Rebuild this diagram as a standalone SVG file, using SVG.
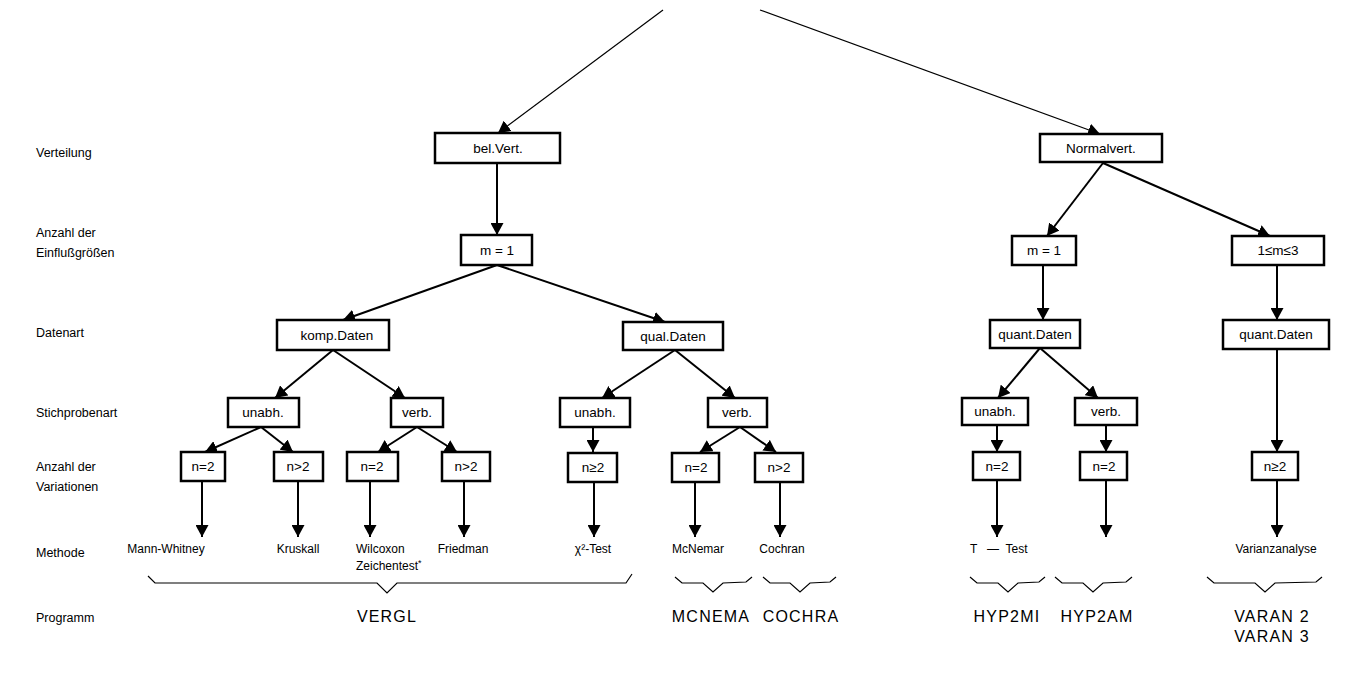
<svg xmlns="http://www.w3.org/2000/svg" width="1353" height="678" viewBox="0 0 1353 678">
<defs>
<marker id="ah" markerUnits="userSpaceOnUse" markerWidth="13" markerHeight="13" refX="12" refY="6.5" orient="auto" viewBox="0 0 13 13">
<path d="M0,0 L12,6.5 L0,13 z" fill="#000"/>
</marker>
<style>
.box{fill:#fff;stroke:#000;stroke-width:2.5}
.nl{font-family:"Liberation Sans",Arial,sans-serif;font-size:13.5px;fill:#000;text-anchor:middle}
.lab{font-family:"Liberation Sans",Arial,sans-serif;font-size:12.5px;fill:#000}
.wl{font-family:"Liberation Sans",Arial,sans-serif;font-size:12px;fill:#000}
.met{font-family:"Liberation Sans",Arial,sans-serif;font-size:12px;fill:#000;text-anchor:middle}
.prg{font-family:"Liberation Sans",Arial,sans-serif;font-size:16px;letter-spacing:1.2px;fill:#000;text-anchor:middle}
.c{stroke:#000;stroke-width:2;fill:none;marker-end:url(#ah)}
.t{stroke:#000;stroke-width:1.2;fill:none;marker-end:url(#ah)}
.br{stroke:#000;stroke-width:1.2;fill:none}
</style>
</defs>

<g id="labels">
<text class="lab" x="36" y="157">Verteilung</text>
<text class="lab" x="36" y="237">Anzahl der</text>
<text class="lab" x="36" y="257">Einflußgrößen</text>
<text class="lab" x="36" y="337">Datenart</text>
<text class="lab" x="36" y="417">Stichprobenart</text>
<text class="lab" x="36" y="471">Anzahl der</text>
<text class="lab" x="36" y="491">Variationen</text>
<text class="lab" x="36" y="557">Methode</text>
<text class="lab" x="36" y="622">Programm</text>
</g>

<g id="connectors">
<line class="t" x1="663" y1="10" x2="498" y2="133"/>
<line class="t" x1="760" y1="10" x2="1100" y2="134"/>
<line class="c" x1="497" y1="163" x2="497" y2="235"/>
<line class="c" x1="497" y1="265" x2="343" y2="320"/>
<line class="c" x1="497" y1="265" x2="665" y2="322"/>
<line class="c" x1="333" y1="350" x2="275" y2="398"/>
<line class="c" x1="333" y1="350" x2="405" y2="398"/>
<line class="c" x1="261" y1="427" x2="205" y2="452"/>
<line class="c" x1="261" y1="427" x2="293" y2="452"/>
<line class="c" x1="417" y1="427" x2="378" y2="452"/>
<line class="c" x1="417" y1="427" x2="457" y2="452"/>
<line class="c" x1="675" y1="350" x2="602" y2="398"/>
<line class="c" x1="675" y1="350" x2="735" y2="398"/>
<line class="c" x1="593" y1="427" x2="593" y2="452"/>
<line class="c" x1="740" y1="427" x2="700" y2="452"/>
<line class="c" x1="740" y1="427" x2="776" y2="452"/>
<line class="c" x1="1103" y1="163" x2="1047" y2="236"/>
<line class="c" x1="1103" y1="163" x2="1270" y2="236"/>
<line class="c" x1="1043" y1="265" x2="1043" y2="320"/>
<line class="c" x1="1277" y1="265" x2="1277" y2="320"/>
<line class="c" x1="1040" y1="348" x2="998" y2="398"/>
<line class="c" x1="1040" y1="348" x2="1098" y2="398"/>
<line class="c" x1="997" y1="425" x2="997" y2="452"/>
<line class="c" x1="1106" y1="425" x2="1106" y2="452"/>
<line class="c" x1="1277" y1="349" x2="1277" y2="452"/>
<line class="c" x1="202" y1="481" x2="202" y2="537"/>
<line class="c" x1="298" y1="481" x2="298" y2="537"/>
<line class="c" x1="370" y1="481" x2="370" y2="537"/>
<line class="c" x1="464" y1="481" x2="464" y2="537"/>
<line class="c" x1="594" y1="482" x2="594" y2="537"/>
<line class="c" x1="695" y1="482" x2="695" y2="537"/>
<line class="c" x1="780" y1="482" x2="780" y2="537"/>
<line class="c" x1="997" y1="480" x2="997" y2="537"/>
<line class="c" x1="1106" y1="480" x2="1106" y2="537"/>
<line class="c" x1="1277" y1="480" x2="1277" y2="537"/>
</g>

<g id="n-belvert"><rect class="box" x="435" y="133" width="125" height="30"/><text class="nl" x="498" y="153">bel.Vert.</text></g>
<g id="n-normalvert"><rect class="box" x="1040" y="134" width="122" height="28"/><text class="nl" x="1101" y="153">Normalvert.</text></g>
<g id="n-m1a"><rect class="box" x="461" y="235" width="71" height="30"/><text class="nl" x="497" y="255">m = 1</text></g>
<g id="n-m1b"><rect class="box" x="1012" y="236" width="64" height="29"/><text class="nl" x="1044" y="255">m = 1</text></g>
<g id="n-m13"><rect class="box" x="1232" y="236" width="92" height="29"/><text class="nl" x="1278" y="255">1≤m≤3</text></g>
<g id="n-komp"><rect class="box" x="277" y="320" width="112" height="30"/><text class="nl" x="337" y="340">komp.Daten</text></g>
<g id="n-qual"><rect class="box" x="623" y="322" width="100" height="28"/><text class="nl" x="673" y="341">qual.Daten</text></g>
<g id="n-quant1"><rect class="box" x="990" y="320" width="90" height="28"/><text class="nl" x="1035" y="339">quant.Daten</text></g>
<g id="n-quant2"><rect class="box" x="1223" y="320" width="106" height="29"/><text class="nl" x="1276" y="339">quant.Daten</text></g>
<g id="n-unabh1"><rect class="box" x="228" y="398" width="71" height="29"/><text class="nl" x="263" y="417">unabh.</text></g>
<g id="n-verb1"><rect class="box" x="391" y="398" width="52" height="29"/><text class="nl" x="417" y="417">verb.</text></g>
<g id="n-unabh2"><rect class="box" x="560" y="398" width="70" height="29"/><text class="nl" x="595" y="417">unabh.</text></g>
<g id="n-verb2"><rect class="box" x="708" y="398" width="59" height="29"/><text class="nl" x="737" y="417">verb.</text></g>
<g id="n-unabh3"><rect class="box" x="962" y="398" width="66" height="27"/><text class="nl" x="995" y="416">unabh.</text></g>
<g id="n-verb3"><rect class="box" x="1075" y="398" width="62" height="27"/><text class="nl" x="1106" y="416">verb.</text></g>
<g id="n-n1"><rect class="box" x="181" y="452" width="44" height="29"/><text class="nl" x="203" y="471">n=2</text></g>
<g id="n-n2"><rect class="box" x="274" y="452" width="49" height="29"/><text class="nl" x="298" y="471">n&gt;2</text></g>
<g id="n-n3"><rect class="box" x="347" y="452" width="51" height="29"/><text class="nl" x="372" y="471">n=2</text></g>
<g id="n-n4"><rect class="box" x="442" y="452" width="48" height="29"/><text class="nl" x="466" y="471">n&gt;2</text></g>
<g id="n-n5"><rect class="box" x="568" y="453" width="49" height="29"/><text class="nl" x="593" y="472">n≥2</text></g>
<g id="n-n6"><rect class="box" x="672" y="453" width="47" height="29"/><text class="nl" x="696" y="472">n=2</text></g>
<g id="n-n7"><rect class="box" x="755" y="453" width="48" height="29"/><text class="nl" x="779" y="472">n&gt;2</text></g>
<g id="n-n8"><rect class="box" x="973" y="452" width="47" height="28"/><text class="nl" x="997" y="471">n=2</text></g>
<g id="n-n9"><rect class="box" x="1080" y="452" width="47" height="28"/><text class="nl" x="1104" y="471">n=2</text></g>
<g id="n-n10"><rect class="box" x="1252" y="452" width="46" height="28"/><text class="nl" x="1275" y="471">n≥2</text></g>

<g id="methods">
<text class="met" x="166" y="553">Mann-Whitney</text>
<text class="met" x="298" y="553">Kruskall</text>
<text class="wl" x="356" y="553">Wilcoxon</text>
<text class="wl" x="356" y="570">Zeichentest<tspan dy="-4" font-size="9">*</tspan></text>
<text class="met" x="463" y="553">Friedman</text>
<text class="met" x="593" y="553">χ²-Test</text>
<text class="met" x="698" y="553">McNemar</text>
<text class="met" x="782" y="553">Cochran</text>
<text class="wl" x="970" y="553" xml:space="preserve">T   —  Test</text>
<text class="met" x="1276" y="553">Varianzanalyse</text>
</g>

<g id="braces">
<path class="br" d="M148,576 L155,583 L377,583 L387,593 L397,583 L626,583 L632,574"/>
<path class="br" d="M675,577 L682,583 L703,583 L713,592 L723,583 L746,582 L752,577"/>
<path class="br" d="M763,577 L770,583 L790,583 L800,592 L810,583 L830,582 L836,577"/>
<path class="br" d="M970,577 L977,583 L998,583 L1008,592 L1018,583 L1039,582 L1045,577"/>
<path class="br" d="M1055,577 L1062,583 L1083,583 L1093,592 L1103,583 L1126,582 L1132,577"/>
<path class="br" d="M1207,577 L1214,583 L1255,583 L1265,592 L1275,583 L1316,582 L1322,577"/>
</g>

<g id="programs">
<text class="prg" x="387" y="622">VERGL</text>
<text class="prg" x="711" y="622">MCNEMA</text>
<text class="prg" x="801" y="622">COCHRA</text>
<text class="prg" x="1007" y="622">HYP2MI</text>
<text class="prg" x="1097" y="622">HYP2AM</text>
<text class="prg" x="1272" y="622">VARAN 2</text>
<text class="prg" x="1272" y="642">VARAN 3</text>
</g>
</svg>
